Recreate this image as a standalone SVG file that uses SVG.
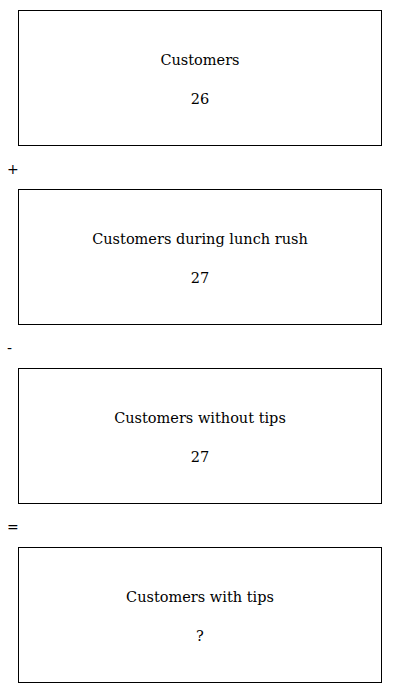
<svg xmlns="http://www.w3.org/2000/svg" width="400" height="693" viewBox="0 0 400 693">
<style>
.box{fill:#fff;stroke:#000;stroke-width:1}
.t{font-family:"DejaVu Serif",serif;font-size:14.5px;fill:#000;text-anchor:middle}
.op{font-family:"DejaVu Sans",sans-serif;font-size:14px;fill:#000}
</style>
<rect width="400" height="693" fill="#fff"/>
<g id="node1">
<rect class="box" x="18.5" y="10.5" width="363" height="135"/>
<text class="t" x="200" y="64.5">Customers</text>
<text class="t" x="200" y="103.5">26</text>
</g>
<g id="node2">
<rect class="box" x="18.5" y="189.5" width="363" height="135"/>
<text class="t" x="200" y="243.5">Customers during lunch rush</text>
<text class="t" x="200" y="282.5">27</text>
</g>
<g id="node3">
<rect class="box" x="18.5" y="368.5" width="363" height="135"/>
<text class="t" x="200" y="422.5">Customers without tips</text>
<text class="t" x="200" y="461.5">27</text>
</g>
<g id="node4">
<rect class="box" x="18.5" y="547.5" width="363" height="135"/>
<text class="t" x="200" y="601.5">Customers with tips</text>
<text class="t" x="200" y="640.5">?</text>
</g>
<g id="connectors">
<text class="op" x="7" y="174">+</text>
<text class="op" x="7" y="353">-</text>
<text class="op" x="7" y="532">=</text>
</g>
</svg>
